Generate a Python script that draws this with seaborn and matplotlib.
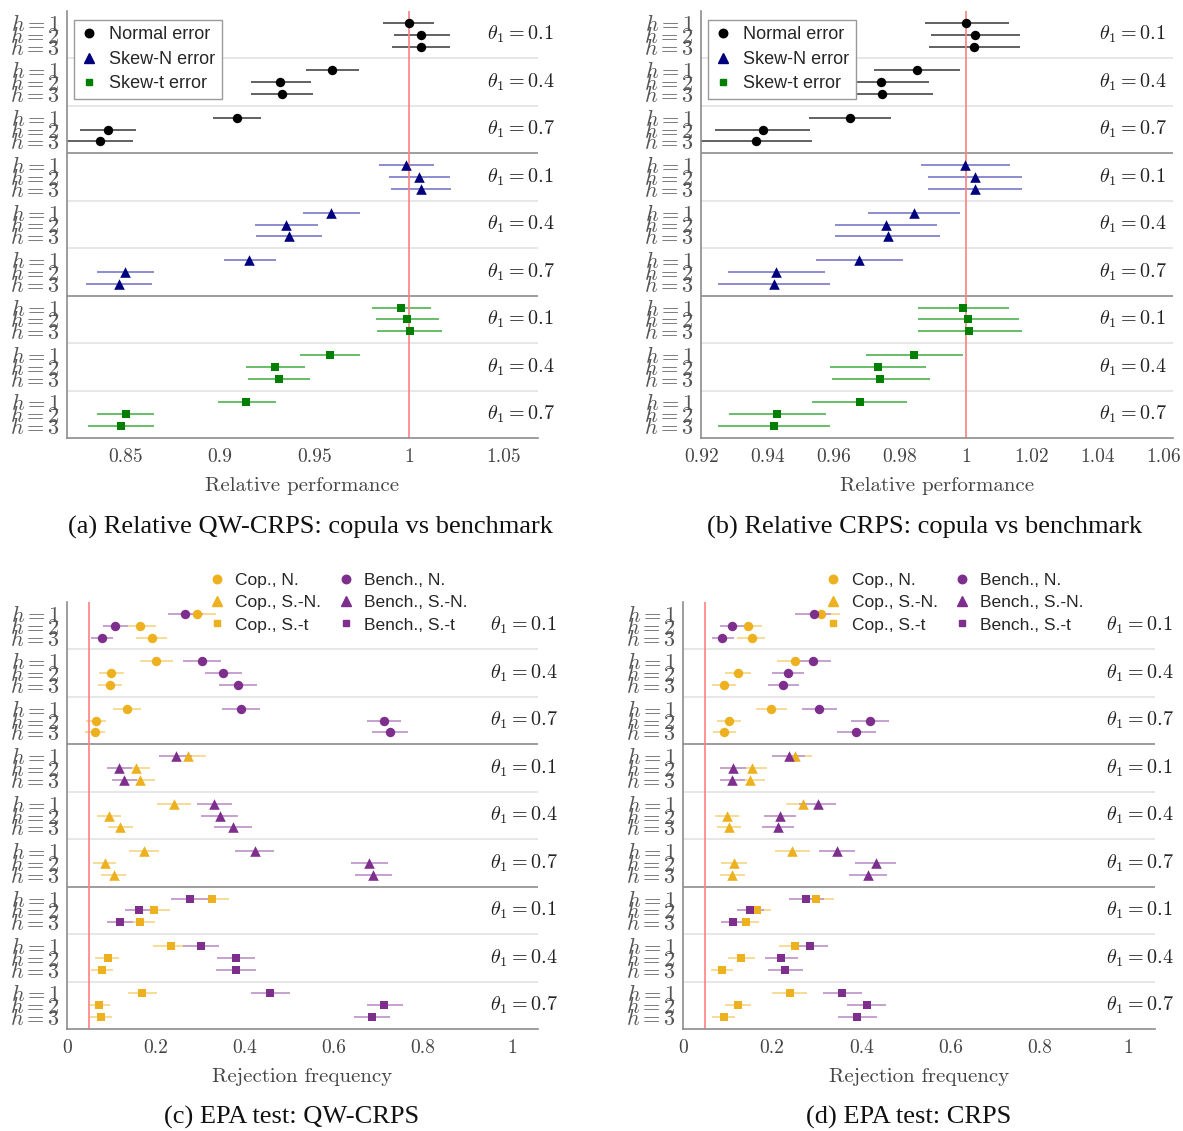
import numpy as np
import pandas as pd
import matplotlib
matplotlib.use('Agg')
import matplotlib.pyplot as plt
import matplotlib.transforms as mtransforms
from matplotlib.lines import Line2D
import seaborn as sns

h_labels = [r'$h = 1$', r'$h = 2$', r'$h = 3$']
theta_labels = [r'$\theta_1 = 0.1$', r'$\theta_1 = 0.4$', r'$\theta_1 = 0.7$']
error_types = ['Normal error', 'Skew-N error', 'Skew-t error']
model_labels = ['Cop., N.', 'Cop., S.-N.', 'Cop., S.-t', 'Bench., N.', 'Bench., S.-N.', 'Bench., S.-t']

# rows ordered: error type -> theta_1 -> h
# (a) relative QW-CRPS
qw_rel = [1.000, 1.0064, 1.006, 0.9593, 0.9318, 0.9326, 0.909, 0.841, 0.8365,
          0.9984, 1.0054, 1.0062, 0.9589, 0.9348, 0.9364, 0.9156, 0.850, 0.8466,
          0.9958, 0.999, 1.0002, 0.9583, 0.9293, 0.9313, 0.9138, 0.8502, 0.8476]
qw_rel_lo = [0.986, 0.9917, 0.9909, 0.9454, 0.9162, 0.9162, 0.8963, 0.8263, 0.8185,
             0.9841, 0.9895, 0.9905, 0.944, 0.9185, 0.9191, 0.902, 0.8351, 0.8295,
             0.9805, 0.9825, 0.9831, 0.9424, 0.914, 0.915, 0.8987, 0.8349, 0.8301]
qw_rel_hi = [1.013, 1.0215, 1.0217, 0.9736, 0.9481, 0.9493, 0.9217, 0.8557, 0.8538,
             1.0129, 1.0213, 1.0219, 0.9742, 0.9517, 0.9541, 0.9297, 0.8651, 0.8643,
             1.0113, 1.0159, 1.0175, 0.974, 0.9448, 0.9476, 0.9295, 0.8653, 0.8653]

# (b) relative CRPS
crps_rel = [1.000, 1.0029, 1.0026, 0.9852, 0.9743, 0.9746, 0.9648, 0.9384, 0.9365,
            0.9998, 1.0028, 1.0028, 0.9842, 0.9758, 0.9764, 0.9676, 0.9424, 0.9418,
            0.9992, 1.0007, 1.0011, 0.9842, 0.9734, 0.9741, 0.9679, 0.9428, 0.9418]
crps_rel_lo = [0.9875, 0.9893, 0.9889, 0.972, 0.9598, 0.9595, 0.9525, 0.9239, 0.9197,
               0.9863, 0.9884, 0.9885, 0.9702, 0.9604, 0.9603, 0.9547, 0.928, 0.9248,
               0.9854, 0.9854, 0.9854, 0.9696, 0.9589, 0.9594, 0.9535, 0.9283, 0.9248]
crps_rel_hi = [1.0131, 1.0163, 1.0165, 0.9983, 0.9888, 0.9899, 0.9772, 0.9528, 0.9534,
               1.0134, 1.0169, 1.0169, 0.9983, 0.9912, 0.9923, 0.981, 0.9572, 0.9588,
               1.013, 1.0161, 1.0169, 0.9991, 0.9878, 0.989, 0.9822, 0.9577, 0.9588]

# (c) EPA test rejection frequency, QW-CRPS
qw_cop = [0.2916, 0.164, 0.190, 0.201, 0.098, 0.0964, 0.135, 0.065, 0.0626,
          0.272, 0.155, 0.164, 0.240, 0.0947, 0.120, 0.1724, 0.0845, 0.105,
          0.3246, 0.196, 0.165, 0.2325, 0.0913, 0.0786, 0.169, 0.0727, 0.076]
qw_cop_lo = [0.251, 0.131, 0.156, 0.165, 0.071, 0.069, 0.104, 0.043, 0.041,
             0.234, 0.123, 0.133, 0.203, 0.068, 0.092, 0.139, 0.059, 0.077,
             0.282, 0.162, 0.132, 0.194, 0.064, 0.054, 0.136, 0.049, 0.052]
qw_cop_hi = [0.334, 0.199, 0.225, 0.237, 0.127, 0.124, 0.166, 0.087, 0.085,
             0.312, 0.187, 0.197, 0.279, 0.122, 0.149, 0.206, 0.110, 0.132,
             0.365, 0.231, 0.198, 0.270, 0.1175, 0.103, 0.203, 0.096, 0.101]
qw_bench = [0.266, 0.1074, 0.0778, 0.3026, 0.351, 0.383, 0.391, 0.711, 0.725,
            0.244, 0.1175, 0.1285, 0.3305, 0.343, 0.373, 0.422, 0.679, 0.687,
            0.2756, 0.162, 0.119, 0.301, 0.3795, 0.3795, 0.457, 0.713, 0.685]
qw_bench_lo = [0.226, 0.080, 0.054, 0.261, 0.310, 0.341, 0.348, 0.673, 0.686,
               0.207, 0.089, 0.100, 0.291, 0.300, 0.331, 0.377, 0.637, 0.648,
               0.234, 0.130, 0.090, 0.260, 0.337, 0.334, 0.414, 0.674, 0.645]
qw_bench_hi = [0.306, 0.136, 0.103, 0.345, 0.392, 0.427, 0.434, 0.751, 0.765,
               0.281, 0.147, 0.158, 0.371, 0.385, 0.415, 0.465, 0.721, 0.729,
               0.319, 0.196, 0.149, 0.342, 0.423, 0.424, 0.501, 0.755, 0.726]

# (d) EPA test rejection frequency, CRPS
crps_cop = [0.310, 0.146, 0.154, 0.2515, 0.123, 0.0926, 0.197, 0.1028, 0.0926,
            0.252, 0.1555, 0.151, 0.269, 0.0986, 0.103, 0.2455, 0.1147, 0.111,
            0.299, 0.165, 0.141, 0.2523, 0.131, 0.0867, 0.2396, 0.123, 0.091]
crps_cop_lo = [0.269, 0.114, 0.122, 0.212, 0.094, 0.066, 0.164, 0.0765, 0.067,
               0.214, 0.122, 0.119, 0.231, 0.072, 0.0756, 0.206, 0.086, 0.082,
               0.260, 0.133, 0.110, 0.215, 0.102, 0.062, 0.2005, 0.094, 0.065]
crps_cop_hi = [0.352, 0.178, 0.185, 0.291, 0.152, 0.120, 0.233, 0.130, 0.120,
               0.2906, 0.188, 0.1835, 0.308, 0.126, 0.131, 0.284, 0.1436, 0.140,
               0.340, 0.197, 0.1716, 0.2906, 0.1606, 0.113, 0.2787, 0.152, 0.1164]
crps_bench = [0.293, 0.111, 0.088, 0.291, 0.235, 0.225, 0.305, 0.419, 0.389,
              0.237, 0.113, 0.111, 0.302, 0.2175, 0.213, 0.346, 0.4325, 0.4155,
              0.276, 0.151, 0.113, 0.2855, 0.221, 0.2294, 0.357, 0.412, 0.391]
crps_bench_lo = [0.252, 0.084, 0.065, 0.251, 0.2005, 0.190, 0.267, 0.376, 0.346,
                 0.2005, 0.084, 0.082, 0.261, 0.182, 0.178, 0.305, 0.3866, 0.373,
                 0.237, 0.1206, 0.085, 0.2455, 0.184, 0.190, 0.3135, 0.368, 0.348]
crps_bench_hi = [0.333, 0.140, 0.114, 0.333, 0.271, 0.261, 0.345, 0.463, 0.434,
                 0.2736, 0.141, 0.139, 0.343, 0.253, 0.249, 0.387, 0.4775, 0.458,
                 0.316, 0.1827, 0.142, 0.3245, 0.258, 0.2685, 0.401, 0.456, 0.435]

rows = np.arange(27)
ypos = 4 * (rows // 3) + rows % 3 + 1

markers = ['o', '^', 's']
sizes = [46, 58, 30]
rel_colors = ['#000000', '#00007f', '#007f00']
rel_bar_colors = ['#555555', '#8484cc', '#5cb85c']
cop_color, cop_bar = '#EDB120', '#f6d88f'
bench_color, bench_bar = '#7E2F8E', '#c29bcb'

sns.set_style('white')
plt.rcParams['mathtext.fontset'] = 'cm'
plt.rcParams['font.family'] = ['Liberation Sans', 'DejaVu Sans']

W, H = 1183, 1131
fig = plt.figure(figsize=(W / 100, H / 100), dpi=100)


def px_axes(x0, y0, x1, y1):
    return fig.add_axes([x0 / W, 1 - y1 / H, (x1 - x0) / W, (y1 - y0) / H])


def setup(ax, xlim, ticks, ticklabels, ref, xlabel, theta_x):
    for yy in range(4, 36, 4):
        dark = yy in (12, 24)
        ax.axhline(yy, color='#8c8c8c' if dark else '#e3e3e3', lw=1.2, zorder=1)
    ax.axvline(ref, color='#ff8080', lw=1.2, zorder=2.5)
    ax.set_xlim(*xlim)
    ax.set_ylim(36, 0)
    ax.set_yticks(ypos)
    ax.set_yticklabels(h_labels * 9, fontsize=16, color='#555555')
    ax.set_xticks(ticks)
    ax.set_xticklabels(ticklabels, family='cmr10', fontsize=14, color='#444444')
    ax.tick_params(axis='x', direction='in', length=4, color='#8c8c8c', pad=7)
    ax.tick_params(axis='y', direction='in', length=4, color='#8c8c8c', pad=5)
    ax.set_xlabel(xlabel, family='cmr10', fontsize=15, color='#444444', labelpad=8)
    ax.set_ylabel('')
    for side in ['top', 'right']:
        ax.spines[side].set_visible(False)
    for side in ['left', 'bottom']:
        ax.spines[side].set_color('#8c8c8c')
        ax.spines[side].set_linewidth(1.2)
    trans = mtransforms.blended_transform_factory(ax.transAxes, ax.transData)
    for g in range(9):
        ax.text(theta_x, 4 * g + 2, theta_labels[g % 3], transform=trans,
                fontsize=14.5, ha='left', va='center', color='#222222', zorder=5)


def draw_rel(ax, val, lo, hi):
    df = pd.DataFrame({'value': val, 'lo': lo, 'hi': hi, 'y': ypos,
                       'error': np.repeat(error_types, 9)})
    for i, err in enumerate(error_types):
        sub = df[df['error'] == err]
        ax.hlines(sub['y'], sub['lo'], sub['hi'], color=rel_bar_colors[i], lw=1.3, zorder=2)
        sns.scatterplot(data=sub, x='value', y='y', marker=markers[i], s=sizes[i],
                        color=rel_colors[i], edgecolor=rel_colors[i], linewidth=0,
                        ax=ax, legend=False, zorder=3)
    handles = [Line2D([], [], ls='none', marker=markers[i], color=rel_colors[i],
                      markersize=np.sqrt(sizes[i]) * (0.75 if i == 2 else 0.9))
               for i in range(3)]
    ax.legend(handles, error_types, loc='upper left', bbox_to_anchor=(0.015, 0.979),
              borderaxespad=0, fontsize=13, frameon=True, fancybox=False,
              edgecolor='#9a9a9a', framealpha=1, handlelength=1.0, handletextpad=0.6,
              labelspacing=0.42, borderpad=0.35)


def draw_epa(ax, cop, cop_lo, cop_hi, bench, bench_lo, bench_hi):
    df = pd.DataFrame({'cop': cop, 'cop_lo': cop_lo, 'cop_hi': cop_hi,
                       'bench': bench, 'bench_lo': bench_lo, 'bench_hi': bench_hi,
                       'y': ypos, 'error': np.repeat(error_types, 9)})
    ax.hlines(df['y'], df['cop_lo'], df['cop_hi'], color=cop_bar, lw=1.3, zorder=2)
    ax.hlines(df['y'], df['bench_lo'], df['bench_hi'], color=bench_bar, lw=1.3, zorder=2)
    for i, err in enumerate(error_types):
        sub = df[df['error'] == err]
        sns.scatterplot(data=sub, x='cop', y='y', marker=markers[i], s=sizes[i],
                        color=cop_color, edgecolor=cop_color, linewidth=0,
                        ax=ax, legend=False, zorder=3)
        sns.scatterplot(data=sub, x='bench', y='y', marker=markers[i], s=sizes[i],
                        color=bench_color, edgecolor=bench_color, linewidth=0,
                        ax=ax, legend=False, zorder=3)
    handles = [Line2D([], [], ls='none', marker=markers[i % 3],
                      color=cop_color if i < 3 else bench_color,
                      markersize=np.sqrt(sizes[i % 3]) * (0.75 if i % 3 == 2 else 0.9))
               for i in range(6)]
    ax.legend(handles, model_labels, ncol=2, loc='center left', bbox_to_anchor=(0.30, 0.998),
              borderaxespad=0, fontsize=12.5, frameon=False, handlelength=1.0,
              handletextpad=0.55, columnspacing=0.9, labelspacing=0.4, borderpad=0)


ax_a = px_axes(67, 11, 538, 438)
draw_rel(ax_a, qw_rel, qw_rel_lo, qw_rel_hi)
setup(ax_a, (0.8192, 1.068), [0.85, 0.9, 0.95, 1.0, 1.05],
      ['0.85', '0.9', '0.95', '1', '1.05'], 1.0, 'Relative performance', 0.892)

ax_b = px_axes(701, 11, 1173, 438)
draw_rel(ax_b, crps_rel, crps_rel_lo, crps_rel_hi)
setup(ax_b, (0.9197, 1.0628), [0.92, 0.94, 0.96, 0.98, 1.0, 1.02, 1.04, 1.06],
      ['0.92', '0.94', '0.96', '0.98', '1', '1.02', '1.04', '1.06'], 1.0,
      'Relative performance', 0.843)

ax_c = px_axes(67, 602, 538, 1029)
draw_epa(ax_c, qw_cop, qw_cop_lo, qw_cop_hi, qw_bench, qw_bench_lo, qw_bench_hi)
setup(ax_c, (0, 1.058), [0, 0.2, 0.4, 0.6, 0.8, 1.0],
      ['0', '0.2', '0.4', '0.6', '0.8', '1'], 0.05, 'Rejection frequency', 0.898)

ax_d = px_axes(683, 602, 1155, 1029)
draw_epa(ax_d, crps_cop, crps_cop_lo, crps_cop_hi, crps_bench, crps_bench_lo, crps_bench_hi)
setup(ax_d, (0, 1.0595), [0, 0.2, 0.4, 0.6, 0.8, 1.0],
      ['0', '0.2', '0.4', '0.6', '0.8', '1'], 0.05, 'Rejection frequency', 0.896)

captions = ['(a) Relative QW-CRPS: copula vs benchmark', '(b) Relative CRPS: copula vs benchmark',
            '(c) EPA test: QW-CRPS', '(d) EPA test: CRPS']
cap_pos = [(310, 527), (925, 527), (292, 1117), (909, 1117)]
for cap, (cx, cy) in zip(captions, cap_pos):
    fig.text(cx / W, 1 - cy / H, cap, family='Liberation Serif', fontsize=19,
             ha='center', va='center', color='#111111')

fig.savefig('out.png', dpi=100)
